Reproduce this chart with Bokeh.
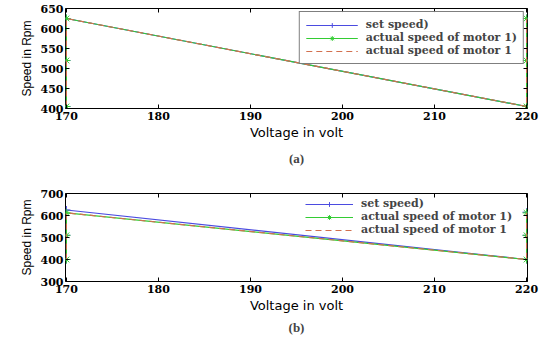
from bokeh.plotting import figure
from bokeh.layouts import column
from bokeh.models import LinearAxis, FixedTicker, Title, Legend, LegendItem, Range1d
from bokeh.embed import file_html
from bokeh.resources import INLINE

# ---- data ----
voltage = [170, 170, 170, 220, 220, 220]

# panel (a)
a_set_speed = [405, 520, 625, 405, 520, 625]
a_actual_1 = [405, 520, 625, 405, 520, 625]
a_actual_2 = [405, 520, 625, 405, 520, 625]

# panel (b)
b_set_speed = [400, 510, 625, 400, 510, 615]
b_actual_1 = [400, 510, 612, 400, 510, 612]
b_actual_2 = [400, 510, 612, 400, 510, 612]

x_ticks = [170, 180, 190, 200, 210, 220]
a_y_ticks = [400, 450, 500, 550, 600, 650]
b_y_ticks = [300, 400, 500, 600, 700]

labels = ["set speed)", "actual speed of motor 1)", "actual speed of motor 1"]

BLUE = "#4b4be0"
GREEN = "#33cc33"
RED = "#d2704f"
SERIF = "DejaVu Serif"
SANS = "DejaVu Sans"


def make_panel(s1, s2, s3, yr, yticks, caption, height, top, bottom, left, right,
               legend_border, legend_loc, legend_margin, caption_standoff, glyph_w, pad):
    p = figure(width=550, height=height, output_backend="svg", toolbar_location=None,
               x_range=Range1d(169.9, 220.1), y_range=Range1d(*yr),
               min_border_top=top, min_border_bottom=bottom,
               min_border_left=left, min_border_right=right,
               background_fill_color="white", border_fill_color="white")
    p.xgrid.visible = False
    p.ygrid.visible = False
    p.outline_line_color = "black"
    p.outline_line_width = 1

    r1 = p.line(voltage, s1, line_color=BLUE, line_width=1.2)
    m1 = p.scatter(voltage, s1, marker="cross", size=8, line_color=BLUE)
    r2 = p.line(voltage, s2, line_color=GREEN, line_width=1.2)
    m2 = p.scatter(voltage, s2, marker="asterisk", size=8, line_color=GREEN)
    r3 = p.line(voltage, s3, line_color=RED, line_width=1.2, line_dash="6 4")

    for ax, ticks in ((p.xaxis[0], x_ticks), (p.yaxis[0], yticks)):
        ax.ticker = FixedTicker(ticks=ticks)
        ax.major_tick_in = 4
        ax.major_tick_out = 0
        ax.minor_tick_line_color = None
        ax.axis_line_color = None
        ax.major_label_text_font = SERIF
        ax.major_label_text_font_style = "bold"
        ax.major_label_text_font_size = "11px"
        ax.major_label_text_color = "black"
        ax.axis_label_text_font_style = "normal"
        ax.axis_label_text_color = "black"
    p.xaxis[0].axis_label = "Voltage in volt"
    p.xaxis[0].axis_label_text_font = SANS
    p.xaxis[0].axis_label_text_font_size = "13px"
    p.xaxis[0].major_label_standoff = 3
    p.xaxis[0].axis_label_standoff = 2
    p.yaxis[0].axis_label = "Speed in Rpm"
    p.yaxis[0].axis_label_text_font = "Liberation Sans"
    p.yaxis[0].axis_label_text_font_size = "12px"
    p.yaxis[0].major_label_standoff = 2
    p.yaxis[0].axis_label_standoff = 4

    for loc, ticks in (("above", x_ticks), ("right", yticks)):
        ax = LinearAxis(ticker=FixedTicker(ticks=ticks), major_tick_in=4, major_tick_out=0,
                        minor_tick_line_color=None, axis_line_color=None,
                        major_label_text_font_size="0px", major_label_standoff=0)
        p.add_layout(ax, loc)

    legend = Legend(items=[LegendItem(label=labels[0], renderers=[r1, m1]),
                           LegendItem(label=labels[1], renderers=[r2, m2]),
                           LegendItem(label=labels[2], renderers=[r3])],
                    location=legend_loc, margin=legend_margin, padding=pad, spacing=0,
                    glyph_width=glyph_w, glyph_height=12, label_height=12,
                    label_standoff=8,
                    label_text_font=SERIF, label_text_font_style="bold",
                    label_text_font_size="11px",
                    border_line_color="black" if legend_border else None,
                    background_fill_color="white",
                    background_fill_alpha=0.9 if legend_border else 0.0)
    p.add_layout(legend)

    t = Title(text=caption, align="center", text_font="Liberation Serif",
              text_font_style="bold", text_font_size="13px", standoff=caption_standoff)
    p.add_layout(t, "below")
    return p


pa = make_panel(a_set_speed, a_actual_1, a_actual_2, (400, 650), a_y_ticks, "(a)",
                172, 8, 63, 58, 23, True, "top_right", 3, 13, 52, 6)
pb = make_panel(b_set_speed, b_actual_1, b_actual_2, (300, 700), b_y_ticks, "(b)",
                166, 21, 57, 65, 16, False, (240, 45), 0, 4, 48, 4)

layout = column(pa, pb, spacing=0)
open("out.html", "w").write(file_html(layout, INLINE))
